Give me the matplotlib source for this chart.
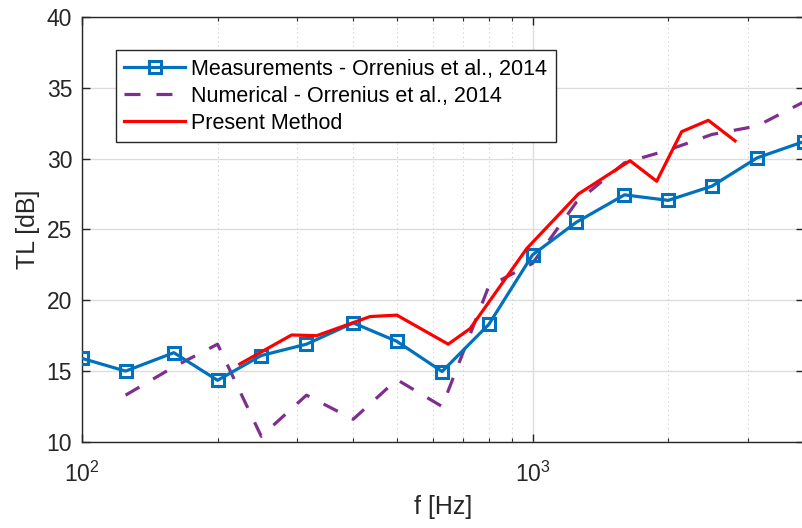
import numpy as np
import matplotlib
matplotlib.use("Agg")
import matplotlib.pyplot as plt
from matplotlib.ticker import LogLocator, NullFormatter

plt.rcParams['font.family'] = ['Liberation Sans', 'DejaVu Sans']
plt.rcParams['mathtext.fontset'] = 'custom'
plt.rcParams['mathtext.rm'] = 'Liberation Sans'

# Mediciones (bandas de tercio de octava)
f_meas = [100, 125, 160, 200, 250, 315, 400, 500, 630, 800, 1000, 1250, 1600, 2000, 2500, 3150, 4000]
tl_meas = [15.9, 15.0, 16.3, 14.35, 16.1, 16.9, 18.4, 17.1, 14.97, 18.3, 23.2, 25.5, 27.44, 27.05, 28.05, 30.05, 31.2]

# Numérico
f_num = [125, 160, 200, 250, 315, 400, 500, 630, 800, 1000, 1250, 1600, 2000, 2500, 3150, 4000]
tl_num = [13.3, 15.3, 16.9, 10.4, 13.3, 11.6, 14.4, 12.5, 21.0, 22.6, 26.9, 29.7, 30.6, 31.7, 32.3, 34.0]

# Método presente
f_pres = [224, 292, 332, 436, 500, 650, 727, 971, 1264, 1646, 1886, 2143, 2456, 2815]
tl_pres = [15.5, 17.55, 17.5, 18.85, 18.95, 16.9, 18.0, 23.65, 27.5, 29.85, 28.4, 31.9, 32.7, 31.25]

fig = plt.figure(figsize=(8.03, 5.28), dpi=100)
ax = fig.add_axes([0.102, 0.163, 0.899, 0.805])

ax.plot(f_meas, tl_meas, color='#0072BD', lw=2.3, marker='s', ms=8.5, mfc='none',
        mew=2.2, label='Measurements - Orrenius et al., 2014', zorder=3)
ax.plot(f_num, tl_num, color='#7E2F8E', lw=2.3, dashes=(5, 5),
        label='Numerical - Orrenius et al., 2014', zorder=2)
ax.plot(f_pres, tl_pres, color='#FF0000', lw=2.3, label='Present Method', zorder=4)

ax.set_xscale('log')
ax.set_xlim(100, 4000)
ax.set_ylim(10, 40)
ax.set_yticks([10, 15, 20, 25, 30, 35, 40])
ax.xaxis.set_major_locator(LogLocator(base=10, numticks=10))
ax.xaxis.set_minor_locator(LogLocator(base=10, subs=np.arange(2, 10), numticks=10))
ax.xaxis.set_minor_formatter(NullFormatter())

ax.grid(True, which='major', color='#dddddd', lw=1.0, ls='-')
ax.grid(True, which='minor', axis='x', color='#cccccc', lw=0.8, ls=(0, (1, 3)))
ax.set_axisbelow(True)

ax.tick_params(which='both', direction='in', top=True, right=True, colors='#262626',
               labelsize=16.5, labelcolor='#262626')
ax.tick_params(which='major', length=6, width=1)
ax.tick_params(which='minor', length=3, width=0.8)
ax.tick_params(axis='y', pad=7)
ax.tick_params(axis='x', pad=14)
for s in ax.spines.values():
    s.set_color('#262626')
    s.set_linewidth(1.0)

ax.set_xlabel('f [Hz]', fontsize=18, color='#262626', labelpad=6)
ax.set_ylabel('TL [dB]', fontsize=18, color='#262626', labelpad=5)

leg = ax.legend(loc='upper left', bbox_to_anchor=(0.047, 0.922), fontsize=15.5,
                frameon=True, fancybox=False, edgecolor='#262626', framealpha=1,
                handlelength=2.8, handletextpad=0.3, borderpad=0.4, labelspacing=0.28,
                borderaxespad=0)
leg.get_frame().set_linewidth(1.0)

fig.savefig('out.png', dpi=100)
